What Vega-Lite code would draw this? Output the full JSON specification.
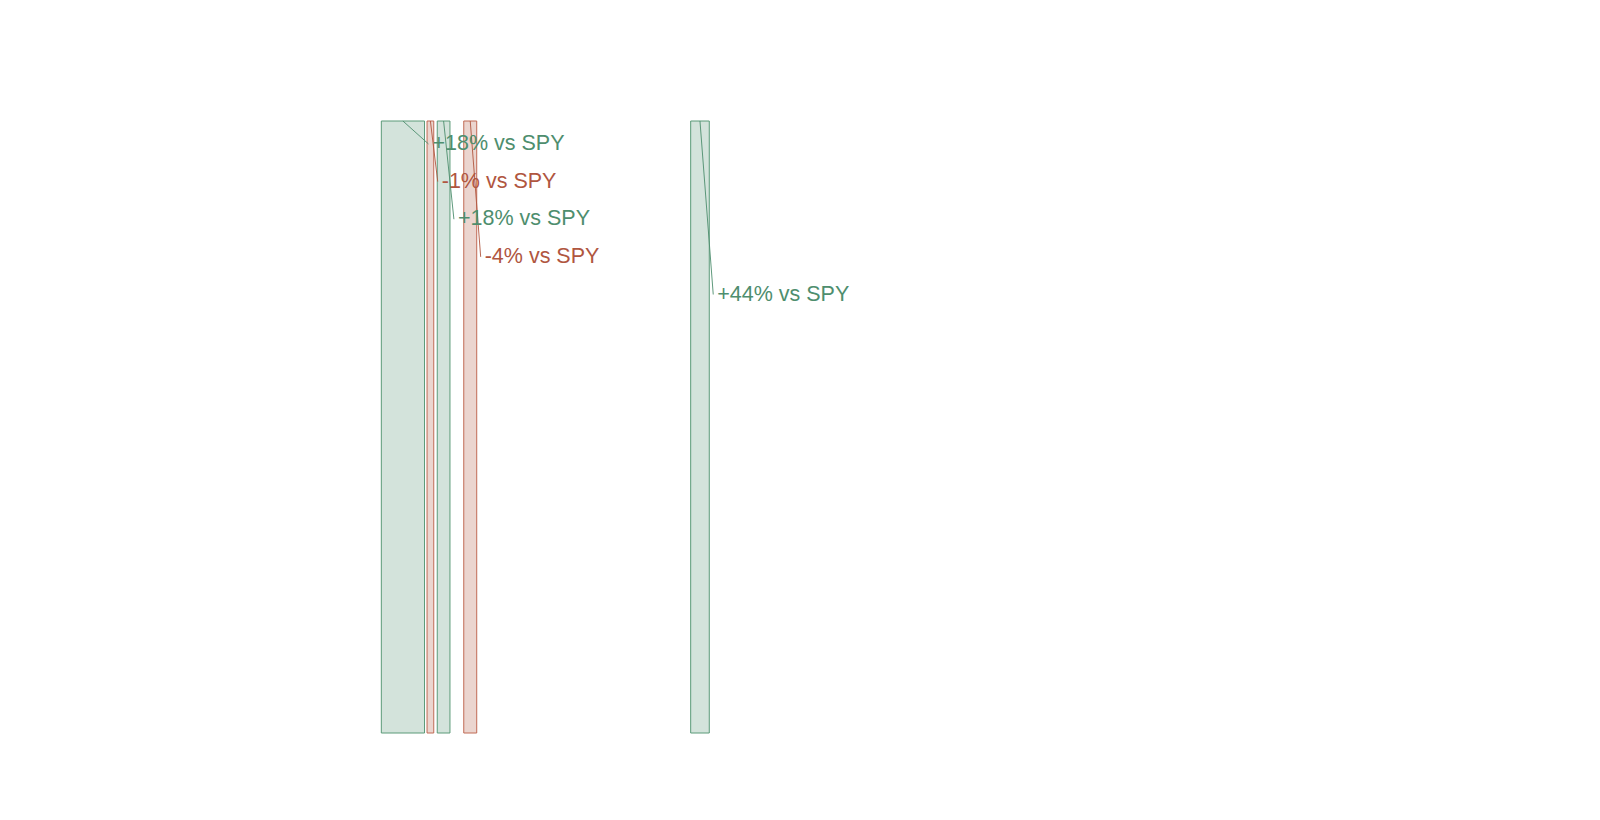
{
  "$schema": "https://vega.github.io/schema/vega-lite/v6.json",
  "width": 1200,
  "height": 612,
  "padding": {"left": 200, "right": 200, "top": 120, "bottom": 88},
  "background": "white",
  "data": {
    "values": [
      {"n": 0, "start": 15.11, "end": 18.71, "delta": 18},
      {"n": 1, "start": 18.92, "end": 19.48, "delta": -1},
      {"n": 2, "start": 19.77, "end": 20.83, "delta": 18},
      {"n": 3, "start": 21.98, "end": 23.06, "delta": -4},
      {"n": 4, "start": 40.89, "end": 42.44, "delta": 44}
    ]
  },
  "transform": [
    {"calculate": "datum.delta >= 0 ? 'beat' : 'lag'", "as": "side"},
    {"calculate": "(datum.delta >= 0 ? '+' : '') + datum.delta + '% vs SPY'", "as": "label"},
    {"calculate": "(datum.start + datum.end) / 2", "as": "mid"},
    {"calculate": "datum.end + 0.33", "as": "lx"},
    {"calculate": "3.75 + 6.15 * datum.n", "as": "ly"},
    {"calculate": "0", "as": "top"}
  ],
  "layer": [
    {
      "mark": {"type": "rect", "fillOpacity": 0.25, "strokeWidth": 1},
      "encoding": {
        "x": {"field": "start", "type": "quantitative", "scale": {"domain": [0, 100]}, "axis": null},
        "x2": {"field": "end"},
        "color": {"field": "side", "type": "nominal", "scale": {"domain": ["beat", "lag"], "range": ["#4e8e6e", "#b0563f"]}, "legend": null},
        "stroke": {"field": "side", "type": "nominal", "scale": {"domain": ["beat", "lag"], "range": ["#5a9a78", "#c06a55"]}, "legend": null}
      }
    },
    {
      "mark": {"type": "rule", "strokeWidth": 1, "opacity": 0.9},
      "encoding": {
        "x": {"field": "mid", "type": "quantitative"},
        "y": {"field": "top", "type": "quantitative", "scale": {"domain": [0, 100], "reverse": true}, "axis": null},
        "x2": {"field": "lx"},
        "y2": {"field": "ly"},
        "color": {"field": "side", "type": "nominal", "legend": null}
      }
    },
    {
      "mark": {"type": "text", "align": "left", "baseline": "middle", "dx": 4, "font": "Liberation Sans", "fontSize": 21.5},
      "encoding": {
        "x": {"field": "lx", "type": "quantitative"},
        "y": {"field": "ly", "type": "quantitative"},
        "text": {"field": "label"},
        "color": {"field": "side", "type": "nominal", "legend": null}
      }
    }
  ],
  "config": {"view": {"stroke": null}}
}
